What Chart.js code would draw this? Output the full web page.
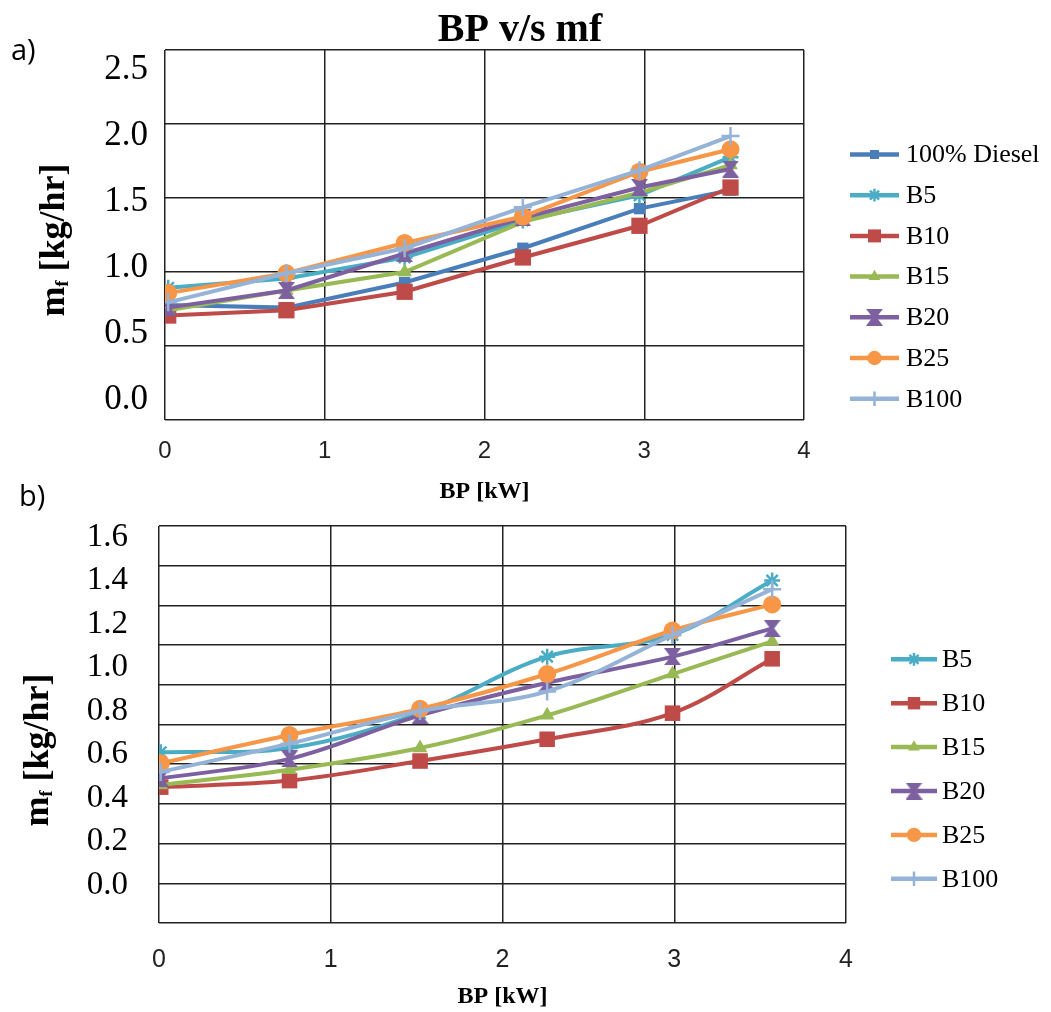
<!DOCTYPE html>
<html>
<head>
<meta charset="utf-8">
<script src="https://cdn.jsdelivr.net/npm/chart.js@4.4.0/dist/chart.umd.min.js"></script>
<style>
  html, body { margin: 0; padding: 0; background: #fff; }
  #page { position: relative; width: 1051px; height: 1012px; overflow: hidden; }
  .box { position: absolute; left: 0; width: 1051px; }
  #boxA { top: 0; height: 505px; }
  #boxB { top: 505px; height: 507px; }
  .tag { position: absolute; z-index: 2; font-family: 'Open Sans', sans-serif; font-size: 29px; color: #000; line-height: 1; }
</style>
</head>
<body>
<div id="page">
  <div class="box" id="boxA"><canvas id="chartA" width="1051" height="505"></canvas></div>
  <div class="box" id="boxB"><canvas id="chartB" width="1051" height="507"></canvas></div>
  <div class="tag" style="left:11px; top:34px;">a)</div>
  <div class="tag" style="left:19px; top:480px;">b)</div>
</div>
<script>
// x axis (BP, kW) positions of the readings
const bpA = [0.02, 0.76, 1.5, 2.24, 2.97, 3.54];
const bpB = [0.01, 0.76, 1.52, 2.26, 2.99, 3.57];

// chart a) fuel flow, kg/hr
const dieselA = [0.72, 0.70, 0.89, 1.15, 1.45, 1.59];
const b5A     = [0.85, 0.92, 1.08, 1.36, 1.55, 1.84];
const b10A    = [0.64, 0.68, 0.82, 1.08, 1.32, 1.61];
const b15A    = [0.68, 0.83, 0.97, 1.35, 1.57, 1.78];
const b20A    = [0.70, 0.83, 1.11, 1.38, 1.61, 1.75];
const b25A    = [0.81, 0.96, 1.19, 1.39, 1.73, 1.90];
const b100A   = [0.74, 0.96, 1.15, 1.46, 1.74, 2.00];

// chart b) fuel flow, kg/hr
const b5B   = [0.61, 0.63, 0.79, 1.05, 1.15, 1.40];
const b10B  = [0.45, 0.48, 0.57, 0.67, 0.79, 1.04];
const b15B  = [0.46, 0.53, 0.63, 0.78, 0.97, 1.12];
const b20B  = [0.49, 0.58, 0.78, 0.93, 1.05, 1.18];
const b25B  = [0.56, 0.69, 0.81, 0.97, 1.17, 1.29];
const b100B = [0.52, 0.65, 0.80, 0.89, 1.15, 1.36];

const xTicks = [0, 1, 2, 3, 4];
const yTicksA = [0, 0.5, 1.0, 1.5, 2.0, 2.5];
const yTicksB = [0, 0.2, 0.4, 0.6, 0.8, 1.0, 1.2, 1.4, 1.6];

const SERIF = "'Liberation Serif', 'Times New Roman', serif";
const SANS = "'Liberation Sans', Arial, sans-serif";
const GRID = '#222';

// hourglass marker used for B20
function hourglass(size, color) {
    const c = document.createElement('canvas');
    c.width = size; c.height = size;
    const g = c.getContext('2d');
    const s = size;
    g.fillStyle = color;
    g.beginPath();
    g.moveTo(0, 0); g.lineTo(s, 0); g.lineTo(s * 0.62, s / 2);
    g.lineTo(s, s); g.lineTo(0, s); g.lineTo(s * 0.38, s / 2);
    g.closePath();
    g.fill();
    return c;
}

function series(label, xs, ys, color, style, radius, idx, tension) {
    const thin = style === 'star' || style === 'cross';
    return {
        label: label,
        data: xs.map((x, i) => ({ x: x, y: ys[i] })),
        borderColor: color,
        backgroundColor: color,
        pointBackgroundColor: color,
        pointBorderColor: color,
        pointStyle: style,
        pointRadius: radius,
        pointHoverRadius: radius,
        pointBorderWidth: thin ? 2.5 : 0,
        borderWidth: 4,
        tension: tension,
        order: -idx
    };
}

const sideLegend = {
    id: 'sideLegend',
    afterDraw(chart, args, opts) {
        const ctx = chart.ctx;
        ctx.save();
        chart.data.datasets.forEach((ds, i) => {
            const y = opts.top + i * opts.gap;
            ctx.strokeStyle = ds.borderColor;
            ctx.lineWidth = 4.5;
            ctx.beginPath();
            ctx.moveTo(opts.x, y);
            ctx.lineTo(opts.x + opts.len, y);
            ctx.stroke();
            ctx.fillStyle = ds.pointBackgroundColor;
            ctx.strokeStyle = ds.pointBorderColor;
            ctx.lineWidth = ds.pointBorderWidth;
            Chart.helpers.drawPoint(ctx, {
                pointStyle: ds.pointStyle,
                radius: ds.pointRadius * 0.8,
                rotation: 0,
                borderWidth: ds.pointBorderWidth
            }, opts.x + opts.len / 2, y);
            ctx.fillStyle = '#000';
            ctx.font = opts.size + 'px ' + SERIF;
            ctx.textBaseline = 'middle';
            ctx.textAlign = 'left';
            ctx.fillText(ds.label, opts.x + opts.len + opts.pad, y + 1);
        });
        ctx.restore();
    }
};

// y title with a subscript f, plus optional chart title
const extraText = {
    id: 'extraText',
    afterDraw(chart, args, opts) {
        const ctx = chart.ctx;
        ctx.save();
        if (opts.title) {
            ctx.font = 'bold ' + opts.title.size + 'px ' + SERIF;
            ctx.fillStyle = '#000';
            ctx.textAlign = 'center';
            ctx.textBaseline = 'middle';
            ctx.fillText(opts.title.text, opts.title.x, opts.title.y);
        }
        const t = opts.yTitle;
        ctx.translate(t.x, t.y);
        ctx.rotate(-Math.PI / 2);
        ctx.textAlign = 'left';
        ctx.textBaseline = 'alphabetic';
        const big = 'bold ' + t.size + 'px ' + SERIF;
        const small = 'bold ' + Math.round(t.size * 0.5) + 'px ' + SERIF;
        ctx.font = big;
        const w1 = ctx.measureText('m').width;
        const w3 = ctx.measureText(' [kg/hr]').width;
        ctx.font = small;
        const w2 = ctx.measureText('f').width;
        let x = -(w1 + w2 + w3) / 2;
        ctx.fillStyle = '#000';
        ctx.font = big;
        ctx.fillText('m', x, 0);
        ctx.font = small;
        ctx.fillText('f', x + w1, t.size * 0.1);
        ctx.font = big;
        ctx.fillText(' [kg/hr]', x + w1 + w2, 0);
        ctx.restore();
    }
};

function buildOptions(p) {
    return {
        responsive: false,
        animation: false,
        events: [],
        layout: { padding: { top: p.top, right: p.right, left: 0, bottom: 0 } },
        plugins: {
            legend: { display: false },
            tooltip: { enabled: false },
            sideLegend: p.legend,
            extraText: p.text
        },
        scales: {
            x: {
                type: 'linear',
                min: 0,
                max: 4,
                afterBuildTicks: s => { s.ticks = xTicks.map(v => ({ value: v })); },
                afterFit: s => { s.height = p.xHeight; s.paddingLeft = 0; s.paddingRight = 0; },
                ticks: {
                    font: { family: SANS, size: p.xFont },
                    color: '#222',
                    padding: p.xPad,
                    maxRotation: 0
                },
                grid: { color: GRID, lineWidth: 1.5, drawTicks: false },
                border: { display: false },
                title: {
                    display: true,
                    text: 'BP [kW]',
                    color: '#000',
                    font: { family: SERIF, size: 24, weight: 'bold', lineHeight: 1 },
                    padding: { top: 0, bottom: p.titlePad }
                }
            },
            y: {
                type: 'linear',
                position: 'left',
                min: p.yMin,
                max: p.yMax,
                afterBuildTicks: s => { s.ticks = p.yTicks.map(v => ({ value: v })); },
                afterFit: s => { s.width = p.yWidth; s.paddingTop = 0; s.paddingBottom = 0; },
                ticks: {
                    callback: v => v.toFixed(1),
                    font: { family: SERIF, size: p.yFont },
                    color: '#000',
                    padding: p.yPad
                },
                grid: { display: false, drawTicks: false },
                border: { display: false }
            },
            g: {
                type: 'linear',
                position: 'left',
                min: 0,
                max: p.rows,
                afterFit: s => { s.width = 0; s.paddingTop = 0; s.paddingBottom = 0; },
                ticks: { stepSize: 1, display: false },
                grid: { color: GRID, lineWidth: 1.5, drawTicks: false },
                border: { display: false }
            }
        }
    };
}

const hgA = hourglass(17, '#7D60A0');
const hgB = hourglass(17, '#7D60A0');

new Chart(document.getElementById('chartA').getContext('2d'), {
    type: 'line',
    data: {
        datasets: [
            series('100% Diesel', bpA, dieselA, '#4A7EBB', 'rect', 8, 0, 0),
            series('B5', bpA, b5A, '#4BACC6', 'star', 8, 1, 0),
            series('B10', bpA, b10A, '#BE4B48', 'rect', 11.5, 2, 0),
            series('B15', bpA, b15A, '#98B954', 'triangle', 8.5, 3, 0),
            series('B20', bpA, b20A, '#7D60A0', hgA, 8.5, 4, 0),
            series('B25', bpA, b25A, '#F79646', 'circle', 9, 5, 0),
            series('B100', bpA, b100A, '#95B3D7', 'cross', 9, 6, 0)
        ]
    },
    options: buildOptions({
        top: 50, right: 247, xHeight: 85, xFont: 24, xPad: 17, titlePad: 1,
        yMin: -0.1515, yMax: 2.652, yTicks: yTicksA, yWidth: 165, yFont: 35, yPad: 17, rows: 5,
        legend: { x: 850, top: 154.5, gap: 40.7, len: 49, pad: 7, size: 26 },
        text: {
            title: { text: 'BP v/s mf', x: 520, y: 31, size: 40 },
            yTitle: { x: 64, y: 240, size: 36 }
        }
    }),
    plugins: [sideLegend, extraText]
});

new Chart(document.getElementById('chartB').getContext('2d'), {
    type: 'line',
    data: {
        datasets: [
            series('B5', bpB, b5B, '#4BACC6', 'star', 8, 0, 0.35),
            series('B10', bpB, b10B, '#BE4B48', 'rect', 11, 1, 0.35),
            series('B15', bpB, b15B, '#98B954', 'triangle', 8.5, 2, 0.35),
            series('B20', bpB, b20B, '#7D60A0', hgB, 8.5, 3, 0.35),
            series('B25', bpB, b25B, '#F79646', 'circle', 9, 4, 0.35),
            series('B100', bpB, b100B, '#95B3D7', 'cross', 9, 5, 0.35)
        ]
    },
    options: buildOptions({
        top: 21, right: 205, xHeight: 89, xFont: 25, xPad: 22, titlePad: 3,
        yMin: -0.1747, yMax: 1.6506, yTicks: yTicksB, yWidth: 159, yFont: 33, yPad: 31, rows: 10,
        legend: { x: 891, top: 154.3, gap: 43.9, len: 46, pad: 5, size: 26 },
        text: {
            yTitle: { x: 48, y: 245, size: 36 }
        }
    }),
    plugins: [sideLegend, extraText]
});
</script>
</body>
</html>
